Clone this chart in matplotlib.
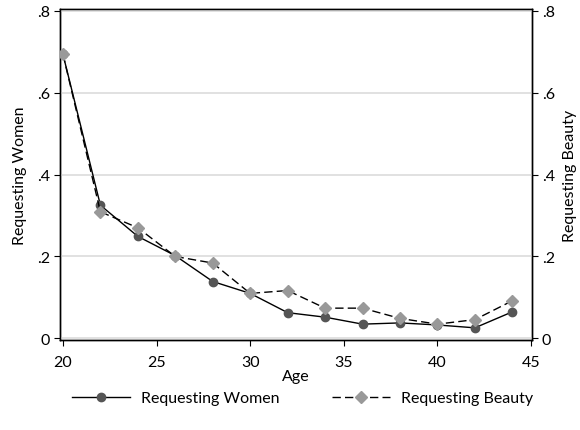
import matplotlib.pyplot as plt
from matplotlib.ticker import FuncFormatter

plt.rcParams['font.family'] = ['Lato', 'DejaVu Sans']

# Share of ads by advertiser age
ages = [20, 22, 24, 26, 28, 30, 32, 34, 36, 38, 40, 42, 44]
women = [0.693, 0.325, 0.249, 0.202, 0.139, 0.110, 0.063, 0.052, 0.035, 0.038, 0.033, 0.026, 0.065]
beauty = [0.693, 0.309, 0.270, 0.200, 0.184, 0.110, 0.117, 0.074, 0.074, 0.049, 0.035, 0.046, 0.092]

yticks = [0, 0.2, 0.4, 0.6, 0.8]
xticks = [20, 25, 30, 35, 40, 45]


def short_label(v, pos):
    if abs(v) < 1e-9:
        return '0'
    return ('%.1f' % v).lstrip('0')


fig = plt.figure(figsize=(5.8, 4.31), dpi=100)
ax = fig.add_axes([0.1034, 0.2088, 0.8138, 0.7680])
ax2 = ax.twinx()

ax.set_zorder(ax2.get_zorder() + 1)
ax.patch.set_visible(False)

l1, = ax.plot(ages, women, color='black', lw=1.0, marker='o', ms=6,
              mfc='#555555', mec='#555555', label='Requesting Women', zorder=3)
l2, = ax.plot(ages, beauty, color='black', lw=1.0, ls=(0, (6, 3)), marker='D', ms=6,
              mfc='#999999', mec='#999999', label='Requesting Beauty', zorder=4)

for a in (ax, ax2):
    a.set_ylim(-0.0037, 0.8037)
    a.set_yticks(yticks)
    a.yaxis.set_major_formatter(FuncFormatter(short_label))
    a.tick_params(axis='y', direction='out', length=4, width=0.8,
                  labelsize=11.5, color='black', pad=3)
    for s in a.spines.values():
        s.set_linewidth(1.0)

ax.set_xlim(19.84, 45.05)
ax.set_xticks(xticks)
ax.tick_params(axis='x', direction='out', length=4, width=0.8,
               labelsize=11.5, color='black', pad=7)
ax.grid(axis='y', color='#dcdcdc', lw=1.2)
ax.set_axisbelow(True)

ax.set_xlabel('Age', fontsize=11.5, labelpad=0)
ax.set_ylabel('Requesting Women', fontsize=11.5, labelpad=7)
ax2.set_ylabel('Requesting Beauty', fontsize=11.5, labelpad=6)

fig.legend(handles=[l1, l2], loc='center', bbox_to_anchor=(0.522, 0.074), ncol=2,
           frameon=False, fontsize=11.5, handlelength=3.6, columnspacing=3.3,
           handletextpad=0.7)

fig.savefig('out.png', dpi=100)
